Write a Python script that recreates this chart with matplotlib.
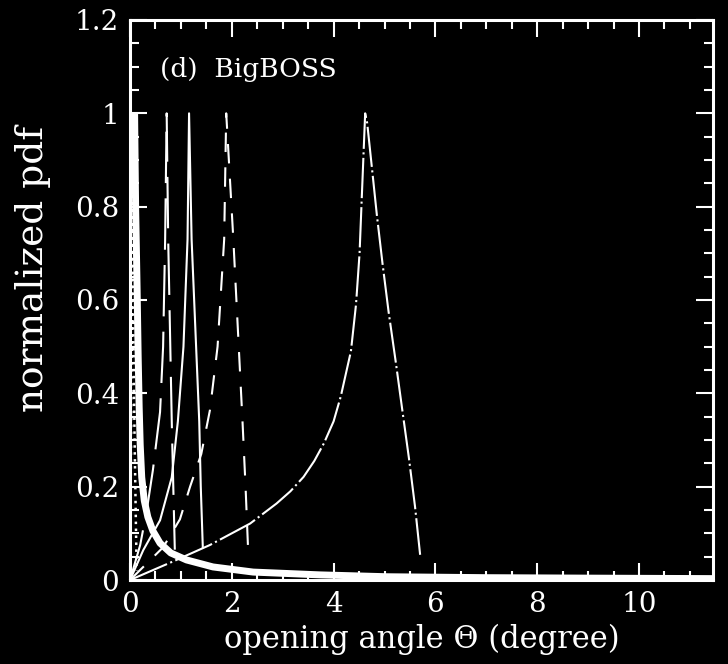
import matplotlib
matplotlib.use("Agg")
import matplotlib.pyplot as plt
from matplotlib.ticker import MultipleLocator

# ---- data: normalized pdf of the opening angle for several samples ----
# narrow spike next to zero (dotted)
theta_dot = [0.0, 0.02, 0.035, 0.045, 0.06, 0.09, 0.13]
pdf_dot = [0.0, 0.30, 0.60, 1.0, 0.6, 0.3, 0.02]

# long-dashed, peak near 0.7 deg
theta_ldash = [0.0, 0.20, 0.33, 0.45, 0.59, 0.65, 0.69, 0.72, 0.75, 0.82, 0.85, 0.88]
pdf_ldash = [0.0, 0.075, 0.15, 0.236, 0.36, 0.50, 0.73, 1.0, 0.73, 0.34, 0.20, 0.065]

# thin solid, peak near 1.16 deg
theta_solid = [0.0, 0.26, 0.59, 0.82, 0.94, 1.05, 1.13, 1.16, 1.21, 1.36, 1.39, 1.43]
pdf_solid = [0.0, 0.064, 0.128, 0.22, 0.34, 0.50, 0.73, 1.0, 0.73, 0.34, 0.20, 0.07]

# short-dashed, peak near 1.9 deg
theta_dash = [0.0, 0.65, 0.98, 1.18, 1.40, 1.57, 1.72, 1.85, 1.89, 2.03, 2.21, 2.27, 2.32]
pdf_dash = [0.0, 0.07, 0.13, 0.20, 0.27, 0.364, 0.50, 0.73, 1.0, 0.73, 0.34, 0.20, 0.065]

# dash-dot, peak near 4.6 deg
theta_dd = [0.0, 0.85, 1.57, 2.36, 2.88, 3.15, 3.41, 3.62, 3.81, 4.0, 4.14, 4.34, 4.44, 4.51,
            4.55, 4.62, 4.66, 4.75, 4.85, 4.96, 5.08, 5.22, 5.35, 5.48, 5.60, 5.70]
pdf_dd = [0.0, 0.040, 0.075, 0.121, 0.164, 0.190, 0.221, 0.255, 0.293, 0.340, 0.393, 0.49,
          0.59, 0.70, 0.81, 1.0, 0.979, 0.886, 0.782, 0.679, 0.575, 0.468, 0.364, 0.261,
          0.157, 0.054]

# thick solid, steeply falling distribution
theta_thick = [0.09, 0.11, 0.14, 0.16, 0.18, 0.20, 0.23, 0.28, 0.35, 0.45, 0.59, 0.80, 1.11,
               1.63, 2.42, 3.73, 5.05, 7.0, 9.0, 11.45]
pdf_thick = [1.0, 0.80, 0.62, 0.48, 0.37, 0.29, 0.22, 0.17, 0.135, 0.105, 0.079, 0.058, 0.043,
             0.028, 0.017, 0.011, 0.007, 0.005, 0.004, 0.003]

panel_label = "(d)  BigBOSS"
x_label = "opening angle \u0398 (degree)"
y_label = "normalized pdf"

# ---- figure ----
plt.rcParams["lines.scale_dashes"] = False
plt.rcParams["font.family"] = ["DejaVu Serif"]

fg = "white"
fig = plt.figure(figsize=(7.28, 6.64), dpi=100, facecolor="black")
ax = fig.add_axes([0.1786, 0.1265, 0.9798 - 0.1786, 0.9699 - 0.1265])
ax.set_facecolor("black")

ax.plot(theta_dot, pdf_dot, color=fg, lw=1.8, linestyle=(0, (1.8, 3.2)))
ax.plot(theta_ldash, pdf_ldash, color=fg, lw=1.5, linestyle=(0, (37, 11)))
ax.plot(theta_solid, pdf_solid, color=fg, lw=1.5, linestyle="-")
ax.plot(theta_dash, pdf_dash, color=fg, lw=1.5, linestyle=(0, (14, 11)))
ax.plot(theta_dd, pdf_dd, color=fg, lw=1.5, linestyle=(0, (29, 2.5, 1.5, 2.5)))
ax.plot(theta_thick, pdf_thick, color=fg, lw=5, solid_capstyle="butt")

ax.set_xlim(0, 11.46)
ax.set_ylim(0, 1.2)

ax.xaxis.set_major_locator(MultipleLocator(2))
ax.xaxis.set_minor_locator(MultipleLocator(0.5))
ax.yaxis.set_major_locator(MultipleLocator(0.2))
ax.yaxis.set_minor_locator(MultipleLocator(0.05))

def fmt(v, _):
    s = f"{v:.1f}"
    if s.endswith(".0"):
        s = s[:-2]
    return s

ax.xaxis.set_major_formatter(plt.FuncFormatter(fmt))
ax.yaxis.set_major_formatter(plt.FuncFormatter(fmt))

ax.tick_params(which="both", direction="in", top=True, right=True,
               colors=fg, labelcolor=fg, width=1.5, labelsize=20)
ax.tick_params(which="major", length=12, pad=8)
ax.tick_params(which="minor", length=6.5)

for s in ax.spines.values():
    s.set_color(fg)
    s.set_linewidth(2.2)

ax.set_xlabel(x_label, color=fg, fontsize=22, labelpad=4)
ax.set_ylabel(y_label, color=fg, fontsize=27)
ax.yaxis.set_label_coords(-0.135, 0.555)

ax.text(0.59, 1.093, panel_label, color=fg, fontsize=19, va="center", ha="left")

fig.savefig("out.png", dpi=100, facecolor="black")
